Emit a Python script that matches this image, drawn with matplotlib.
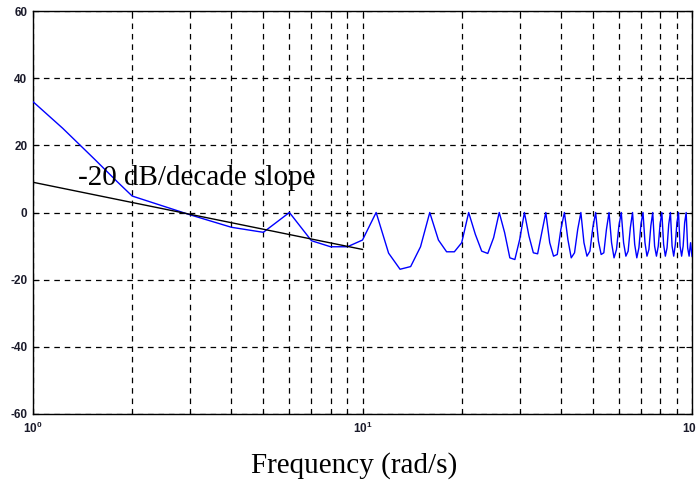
import matplotlib
matplotlib.use("Agg")
import matplotlib.pyplot as plt
from matplotlib.ticker import LogLocator, NullFormatter

plt.rcParams['axes.unicode_minus'] = False
plt.rcParams['lines.scale_dashes'] = False
plt.rcParams['mathtext.fontset'] = 'custom'
plt.rcParams['mathtext.rm'] = 'Liberation Sans:bold'
plt.rcParams['mathtext.it'] = 'Liberation Sans:bold'
plt.rcParams['mathtext.bf'] = 'Liberation Sans:bold'

# Blue response (frequency in rad/s, magnitude in dB)
freq = [1, 1.23, 1.54, 1.8, 2, 3, 4, 5, 6, 7, 8, 9, 10,
        11, 12, 13, 14, 15, 16, 17, 18, 19, 20,
        21, 22, 23, 24, 25, 26, 27, 28, 29, 30,
        31, 32, 33, 34, 35, 36, 37, 38, 39, 40,
        41, 42, 43, 44, 45, 46, 47, 48, 49, 50,
        51, 52, 53, 54, 55, 56, 57, 58, 59, 60,
        61, 62, 63, 64, 65, 66, 67, 68, 69, 70,
        71, 72, 73, 74, 75, 76, 77, 78, 79, 80,
        81, 82, 83, 84, 85, 86, 87, 88, 89, 90,
        91, 92, 93, 94, 95, 96, 97, 98, 99, 100]
mag_db = [33.0, 25.1, 15.8, 9.2, 4.9, -0.7, -4.4, -5.9, 0.0, -8.4, -10.2, -10.2, -8.2,
          0.0, -12.1, -16.9, -16.1, -10.2, 0.0, -8.2, -11.7, -11.7, -9.0,
          0.0, -6.5, -11.5, -12.2, -7.5, 0.0, -6.0, -13.5, -14.0, -8.0,
          0.0, -7.0, -12.0, -12.3, -6.0, 0.0, -9.0, -13.0, -12.5, -5.0,
          0.0, -8.0, -13.5, -12.0, -5.0, 0.0, -9.0, -13.0, -11.5, -4.5,
          0.0, -8.5, -12.5, -12.0, -5.0, 0.0, -9.0, -13.5, -11.0, -4.0,
          0.0, -9.0, -13.0, -11.5, -4.5, 0.0, -9.5, -13.5, -10.5, -3.5,
          0.0, -9.0, -13.0, -11.0, -4.0, 0.0, -10.0, -13.0, -10.0, -3.5,
          0.0, -9.5, -13.0, -10.5, -3.5, 0.0, -10.0, -13.0, -9.5, -3.0,
          0.0, -10.0, -13.0, -10.0, -3.0, 0.0, -10.5, -13.0, -9.0, -13.0]

# Asymptote line
slope_freq = [1, 10]
slope_db = [9.0, -11.0]

y_ticks = [-60, -40, -20, 0, 20, 40, 60]
annotation = "-20 dB/decade slope"
xlabel = "Frequency (rad/s)"

fig = plt.figure(figsize=(6.96, 4.84), dpi=100)
ax = fig.add_axes([33/696, 1 - 414/484, (692 - 33)/696, (414 - 11)/484])

ax.plot(freq, mag_db, color=(0, 0, 1), lw=1.0, zorder=3)
ax.plot(slope_freq, slope_db, color='black', lw=1.0, zorder=3)

ax.set_xscale('log')
ax.set_xlim(1, 100)
ax.set_ylim(-60, 60)
ax.set_yticks(y_ticks)
ax.set_yticklabels([str(v) for v in y_ticks])
ax.xaxis.set_major_locator(LogLocator(base=10, numticks=10))
ax.xaxis.set_minor_locator(LogLocator(base=10, subs=range(2, 10), numticks=20))
ax.xaxis.set_minor_formatter(NullFormatter())

dash = (0, (4, 3.5))
ax.grid(True, which='major', axis='both', color='black', lw=0.9, linestyle=dash)
ax.grid(True, which='minor', axis='x', color='black', lw=0.9, linestyle=dash)

ax.tick_params(which='both', direction='in', top=True, right=True,
               labelsize=8.5, colors='black', labelcolor='#1a1a2a', width=0.8)
ax.tick_params(which='major', length=4)
ax.tick_params(which='minor', length=2.5)
ax.tick_params(axis='x', pad=5)
ax.tick_params(axis='y', pad=4)
for lbl in ax.get_xticklabels() + ax.get_yticklabels():
    lbl.set_fontfamily('Liberation Sans')
    lbl.set_fontweight('bold')
for s in ax.spines.values():
    s.set_linewidth(1.0)

ax.text(1.37, 8.2, annotation, fontsize=21, family='Liberation Serif',
        ha='left', va='baseline', zorder=4)

fig.text(354/696, 1 - 473/484, xlabel, fontsize=21, family='Liberation Serif',
         ha='center', va='baseline')

fig.savefig('out.png', dpi=100)
